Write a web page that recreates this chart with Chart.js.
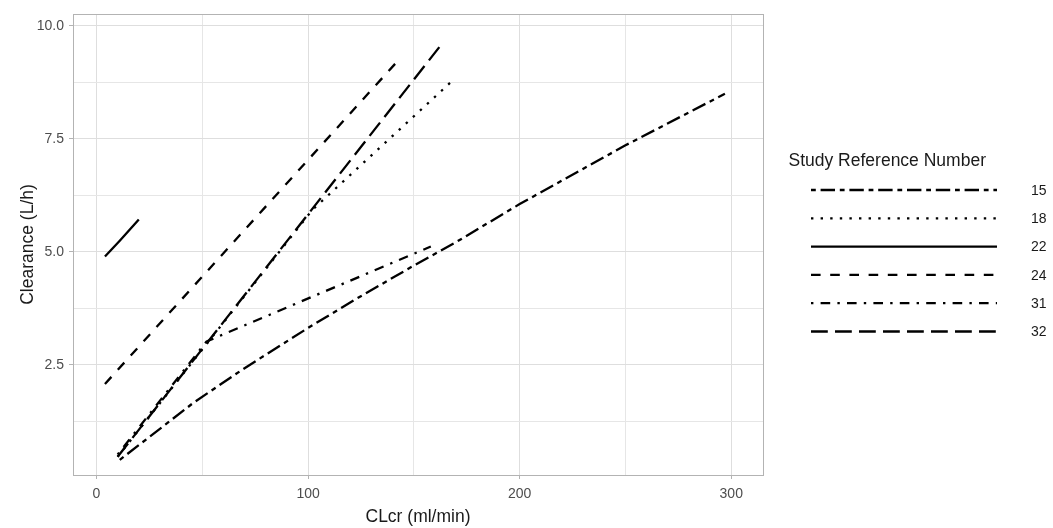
<!DOCTYPE html>
<html><head><meta charset="utf-8">
<script src="https://cdn.jsdelivr.net/npm/chart.js@4.4.0/dist/chart.umd.min.js"></script>
<style>html,body{margin:0;padding:0;background:#fff}#wrap{width:1053px;height:528px;position:relative}</style>
</head><body><div id="wrap"><canvas id="c" width="1053" height="528"></canvas></div>
<script>
// ---- data ----
const studies = ['15', '18', '22', '24', '31', '32'];
const x15 = [11, 46, 69, 100, 123, 150, 170, 200, 250, 297];
const y15 = [0.40, 1.67, 2.40, 3.32, 3.97, 4.70, 5.22, 6.06, 7.36, 8.50];
const x18 = [10, 102, 168];
const y18 = [0.47, 5.93, 8.78];
const x22 = [4, 11, 20];
const y22 = [4.90, 5.25, 5.72];
const x24 = [4, 144];
const y24 = [2.08, 9.31];
const x31 = [10, 52, 158];
const y31 = [0.52, 3.02, 5.12];
const x32 = [10, 164];
const y32 = [0.47, 9.65];
const xTicks = [0, 50, 100, 150, 200, 250, 300];
const xLabels = [0, 100, 200, 300];
const yTicks = [1.25, 2.5, 3.75, 5, 6.25, 7.5, 8.75, 10];
const yLabels = [2.5, 5, 7.5, 10];

// ---- styles ----
const U = 2.4;
const dashes = {
  '15': [2*U, 2*U, 6*U, 2*U],
  '18': [U, 3*U],
  '22': [],
  '24': [4*U, 4*U],
  '31': [U, 3*U, 4*U, 3*U],
  '32': [7*U, 3*U]
};
const xs = {'15': x15, '18': x18, '22': x22, '24': x24, '31': x31, '32': x32};
const ys = {'15': y15, '18': y18, '22': y22, '24': y24, '31': y31, '32': y32};
const FONT = '"Liberation Sans", Arial, sans-serif';

const datasets = studies.map(s => ({
  label: s,
  data: xs[s].map((x, i) => ({x: x, y: ys[s][i]})),
  borderColor: '#000',
  borderWidth: 2.3,
  borderDash: dashes[s],
  borderCapStyle: 'butt',
  borderJoinStyle: 'round',
  pointRadius: 0,
  fill: false,
  tension: 0
}));

const legendPlugin = {
  id: 'ggLegend',
  afterDraw(chart) {
    const ctx = chart.ctx;
    const a = chart.chartArea;
    ctx.save();
    // panel border
    ctx.strokeStyle = '#b3b3b3';
    ctx.lineWidth = 1;
    ctx.setLineDash([]);
    ctx.strokeRect(Math.round(a.left) + 0.5, Math.round(a.top) + 0.5, Math.round(a.right - a.left), Math.round(a.bottom - a.top));
    // legend
    ctx.fillStyle = '#1a1a1a';
    ctx.textBaseline = 'middle';
    ctx.textAlign = 'left';
    ctx.font = '17.5px ' + FONT;
    ctx.fillText('Study Reference Number', 788.5, 161);
    chart.data.datasets.forEach((ds, i) => {
      const y = 190 + i * 28.3;
      ctx.beginPath();
      ctx.setLineDash(ds.borderDash || []);
      ctx.lineWidth = ds.borderWidth;
      ctx.lineCap = 'butt';
      ctx.strokeStyle = ds.borderColor;
      ctx.moveTo(811, y);
      ctx.lineTo(997, y);
      ctx.stroke();
      ctx.setLineDash([]);
      ctx.font = '14px ' + FONT;
      ctx.fillStyle = '#1a1a1a';
      ctx.fillText(ds.label, 1031, y + 1);
    });
    ctx.restore();
  }
};

const isMajorX = v => xLabels.includes(v);
const isMajorY = v => yLabels.some(l => Math.abs(l - v) < 1e-6);

new Chart(document.getElementById('c'), {
  type: 'line',
  data: {datasets: datasets},
  plugins: [legendPlugin],
  options: {
    responsive: false,
    animation: false,
    events: [],
    layout: {padding: {top: 14, right: 290, bottom: 0, left: 0}},
    plugins: {legend: {display: false}, tooltip: {enabled: false}},
    scales: {
      x: {
        type: 'linear',
        min: -11.1,
        max: 315,
        afterBuildTicks: sc => { sc.ticks = xTicks.map(v => ({value: v})); },
        afterFit: sc => { sc.height = 53; },
        border: {display: false},
        grid: {
          color: ctx => (ctx.tick && isMajorX(ctx.tick.value)) ? '#dedede' : '#e6e6e6',
          lineWidth: 1,
          tickLength: 4,
          tickColor: ctx => (ctx.tick && isMajorX(ctx.tick.value)) ? '#b3b3b3' : 'rgba(0,0,0,0)'
        },
        ticks: {
          autoSkip: false,
          maxRotation: 0,
          padding: 7,
          color: '#4d4d4d',
          font: {family: FONT, size: 14},
          callback: v => isMajorX(v) ? String(v) : ''
        },
        title: {
          display: true,
          text: 'CLcr (ml/min)',
          color: '#1a1a1a',
          font: {family: FONT, size: 17.5},
          padding: {top: 0, bottom: 0}
        }
      },
      y: {
        type: 'linear',
        min: 0.066,
        max: 10.265,
        afterBuildTicks: sc => { sc.ticks = yTicks.map(v => ({value: v})); },
        afterFit: sc => { sc.width = 73; },
        border: {display: false},
        grid: {
          color: ctx => (ctx.tick && isMajorY(ctx.tick.value)) ? '#dedede' : '#e6e6e6',
          lineWidth: 1,
          tickLength: 4,
          tickColor: ctx => (ctx.tick && isMajorY(ctx.tick.value)) ? '#b3b3b3' : 'rgba(0,0,0,0)'
        },
        ticks: {
          autoSkip: false,
          padding: 5,
          color: '#4d4d4d',
          font: {family: FONT, size: 14},
          callback: v => isMajorY(v) ? v.toFixed(1) : ''
        },
        title: {
          display: true,
          text: 'Clearance (L/h)',
          color: '#1a1a1a',
          font: {family: FONT, size: 17.5},
          padding: {top: 18, bottom: 0}
        }
      }
    }
  }
});
</script>
</body></html>
